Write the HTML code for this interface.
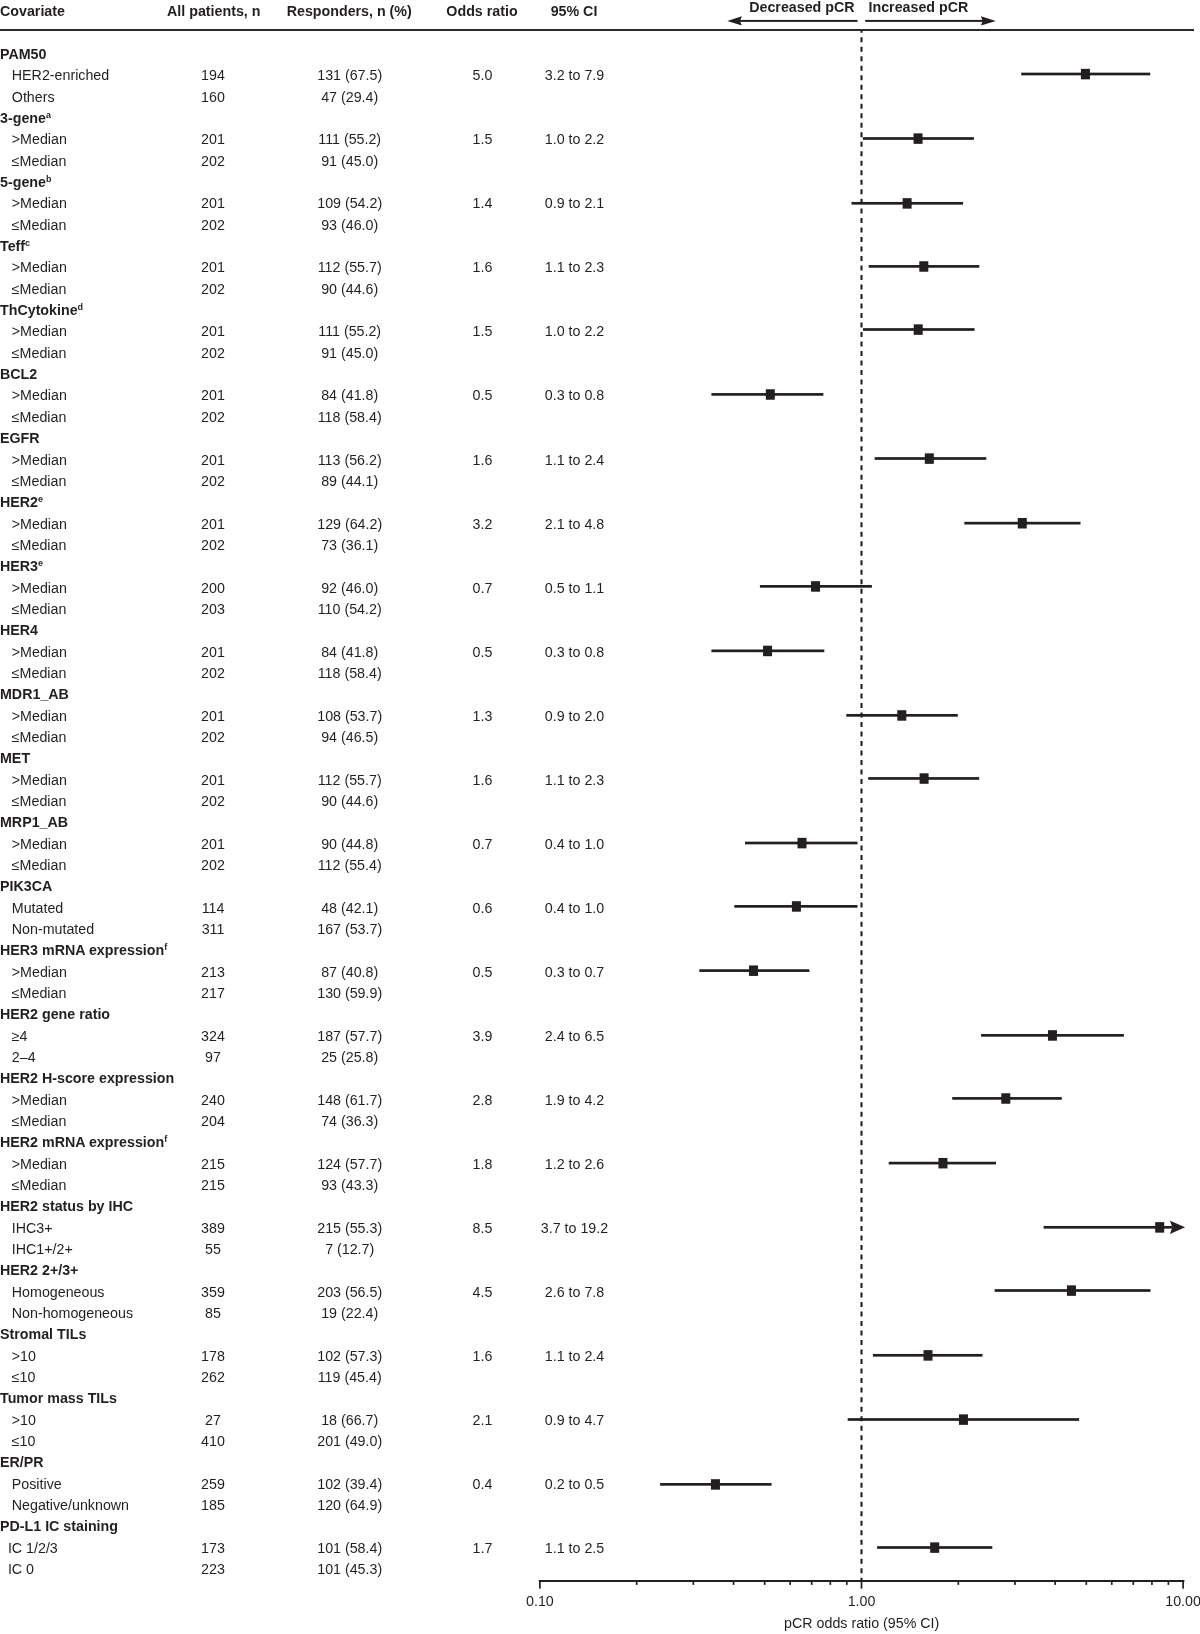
<!DOCTYPE html><html><head><meta charset="utf-8"><style>html,body{margin:0;padding:0;background:#fff;}svg{display:block;will-change:transform}text{font-family:"Liberation Sans",sans-serif;font-size:14.25px;fill:#231f20}.b{font-weight:bold}</style></head><body>
<svg width="1200" height="1634" viewBox="0 0 1200 1634">
<text class="b" x="0" y="16.45">Covariate</text>
<text class="b" x="213.75" y="16.45" text-anchor="middle">All patients, n</text>
<text class="b" x="349.25" y="16.45" text-anchor="middle">Responders, n (%)</text>
<text class="b" x="482" y="16.45" text-anchor="middle">Odds ratio</text>
<text class="b" x="574" y="16.45" text-anchor="middle">95% CI</text>
<text class="b" x="801.9" y="12" text-anchor="middle">Decreased pCR</text>
<text class="b" x="918.4" y="12" text-anchor="middle">Increased pCR</text>
<rect x="739" y="19.9" width="118.5" height="2" fill="#231f20"/>
<path d="M727.25 20.9 L741.9 16.2 L739.9 20.9 L741.9 25.5 Z" fill="#231f20"/>
<rect x="865.2" y="19.9" width="118" height="2" fill="#231f20"/>
<path d="M995.8 20.9 L980.9 16.2 L982.7 20.9 L980.9 25.5 Z" fill="#231f20"/>
<line x1="861.5" y1="31" x2="861.5" y2="1580" stroke="#231f20" stroke-width="2.1" stroke-dasharray="5 4.51" stroke-dashoffset="3.31"/>
<rect x="0" y="29.05" width="1194" height="1.9" fill="#231f20"/>
<text class="b" x="0" y="59.10">PAM50</text>
<text x="11.8" y="80.44">HER2-enriched</text>
<text x="213" y="80.44" text-anchor="middle">194</text>
<text x="349.7" y="80.44" text-anchor="middle">131 (67.5)</text>
<text x="482.5" y="80.44" text-anchor="middle">5.0</text>
<text x="574.5" y="80.44" text-anchor="middle">3.2 to 7.9</text>
<text x="11.8" y="101.77">Others</text>
<text x="213" y="101.77" text-anchor="middle">160</text>
<text x="349.7" y="101.77" text-anchor="middle">47 (29.4)</text>
<text class="b" x="0" y="123.11">3-gene<tspan font-size="9" dy="-5.1">a</tspan></text>
<text x="11.8" y="144.45">>Median</text>
<text x="213" y="144.45" text-anchor="middle">201</text>
<text x="349.7" y="144.45" text-anchor="middle">111 (55.2)</text>
<text x="482.5" y="144.45" text-anchor="middle">1.5</text>
<text x="574.5" y="144.45" text-anchor="middle">1.0 to 2.2</text>
<text x="11.8" y="165.78">≤Median</text>
<text x="213" y="165.78" text-anchor="middle">202</text>
<text x="349.7" y="165.78" text-anchor="middle">91 (45.0)</text>
<text class="b" x="0" y="187.12">5-gene<tspan font-size="9" dy="-5.1">b</tspan></text>
<text x="11.8" y="208.46">>Median</text>
<text x="213" y="208.46" text-anchor="middle">201</text>
<text x="349.7" y="208.46" text-anchor="middle">109 (54.2)</text>
<text x="482.5" y="208.46" text-anchor="middle">1.4</text>
<text x="574.5" y="208.46" text-anchor="middle">0.9 to 2.1</text>
<text x="11.8" y="229.80">≤Median</text>
<text x="213" y="229.80" text-anchor="middle">202</text>
<text x="349.7" y="229.80" text-anchor="middle">93 (46.0)</text>
<text class="b" x="0" y="251.13">Teff<tspan font-size="9" dy="-5.1">c</tspan></text>
<text x="11.8" y="272.47">>Median</text>
<text x="213" y="272.47" text-anchor="middle">201</text>
<text x="349.7" y="272.47" text-anchor="middle">112 (55.7)</text>
<text x="482.5" y="272.47" text-anchor="middle">1.6</text>
<text x="574.5" y="272.47" text-anchor="middle">1.1 to 2.3</text>
<text x="11.8" y="293.81">≤Median</text>
<text x="213" y="293.81" text-anchor="middle">202</text>
<text x="349.7" y="293.81" text-anchor="middle">90 (44.6)</text>
<text class="b" x="0" y="315.14">ThCytokine<tspan font-size="9" dy="-5.1">d</tspan></text>
<text x="11.8" y="336.48">>Median</text>
<text x="213" y="336.48" text-anchor="middle">201</text>
<text x="349.7" y="336.48" text-anchor="middle">111 (55.2)</text>
<text x="482.5" y="336.48" text-anchor="middle">1.5</text>
<text x="574.5" y="336.48" text-anchor="middle">1.0 to 2.2</text>
<text x="11.8" y="357.82">≤Median</text>
<text x="213" y="357.82" text-anchor="middle">202</text>
<text x="349.7" y="357.82" text-anchor="middle">91 (45.0)</text>
<text class="b" x="0" y="379.16">BCL2</text>
<text x="11.8" y="400.49">>Median</text>
<text x="213" y="400.49" text-anchor="middle">201</text>
<text x="349.7" y="400.49" text-anchor="middle">84 (41.8)</text>
<text x="482.5" y="400.49" text-anchor="middle">0.5</text>
<text x="574.5" y="400.49" text-anchor="middle">0.3 to 0.8</text>
<text x="11.8" y="421.83">≤Median</text>
<text x="213" y="421.83" text-anchor="middle">202</text>
<text x="349.7" y="421.83" text-anchor="middle">118 (58.4)</text>
<text class="b" x="0" y="443.17">EGFR</text>
<text x="11.8" y="464.50">>Median</text>
<text x="213" y="464.50" text-anchor="middle">201</text>
<text x="349.7" y="464.50" text-anchor="middle">113 (56.2)</text>
<text x="482.5" y="464.50" text-anchor="middle">1.6</text>
<text x="574.5" y="464.50" text-anchor="middle">1.1 to 2.4</text>
<text x="11.8" y="485.84">≤Median</text>
<text x="213" y="485.84" text-anchor="middle">202</text>
<text x="349.7" y="485.84" text-anchor="middle">89 (44.1)</text>
<text class="b" x="0" y="507.18">HER2<tspan font-size="9" dy="-5.1">e</tspan></text>
<text x="11.8" y="528.51">>Median</text>
<text x="213" y="528.51" text-anchor="middle">201</text>
<text x="349.7" y="528.51" text-anchor="middle">129 (64.2)</text>
<text x="482.5" y="528.51" text-anchor="middle">3.2</text>
<text x="574.5" y="528.51" text-anchor="middle">2.1 to 4.8</text>
<text x="11.8" y="549.85">≤Median</text>
<text x="213" y="549.85" text-anchor="middle">202</text>
<text x="349.7" y="549.85" text-anchor="middle">73 (36.1)</text>
<text class="b" x="0" y="571.19">HER3<tspan font-size="9" dy="-5.1">e</tspan></text>
<text x="11.8" y="592.52">>Median</text>
<text x="213" y="592.52" text-anchor="middle">200</text>
<text x="349.7" y="592.52" text-anchor="middle">92 (46.0)</text>
<text x="482.5" y="592.52" text-anchor="middle">0.7</text>
<text x="574.5" y="592.52" text-anchor="middle">0.5 to 1.1</text>
<text x="11.8" y="613.86">≤Median</text>
<text x="213" y="613.86" text-anchor="middle">203</text>
<text x="349.7" y="613.86" text-anchor="middle">110 (54.2)</text>
<text class="b" x="0" y="635.20">HER4</text>
<text x="11.8" y="656.54">>Median</text>
<text x="213" y="656.54" text-anchor="middle">201</text>
<text x="349.7" y="656.54" text-anchor="middle">84 (41.8)</text>
<text x="482.5" y="656.54" text-anchor="middle">0.5</text>
<text x="574.5" y="656.54" text-anchor="middle">0.3 to 0.8</text>
<text x="11.8" y="677.87">≤Median</text>
<text x="213" y="677.87" text-anchor="middle">202</text>
<text x="349.7" y="677.87" text-anchor="middle">118 (58.4)</text>
<text class="b" x="0" y="699.21">MDR1_AB</text>
<text x="11.8" y="720.55">>Median</text>
<text x="213" y="720.55" text-anchor="middle">201</text>
<text x="349.7" y="720.55" text-anchor="middle">108 (53.7)</text>
<text x="482.5" y="720.55" text-anchor="middle">1.3</text>
<text x="574.5" y="720.55" text-anchor="middle">0.9 to 2.0</text>
<text x="11.8" y="741.88">≤Median</text>
<text x="213" y="741.88" text-anchor="middle">202</text>
<text x="349.7" y="741.88" text-anchor="middle">94 (46.5)</text>
<text class="b" x="0" y="763.22">MET</text>
<text x="11.8" y="784.56">>Median</text>
<text x="213" y="784.56" text-anchor="middle">201</text>
<text x="349.7" y="784.56" text-anchor="middle">112 (55.7)</text>
<text x="482.5" y="784.56" text-anchor="middle">1.6</text>
<text x="574.5" y="784.56" text-anchor="middle">1.1 to 2.3</text>
<text x="11.8" y="805.89">≤Median</text>
<text x="213" y="805.89" text-anchor="middle">202</text>
<text x="349.7" y="805.89" text-anchor="middle">90 (44.6)</text>
<text class="b" x="0" y="827.23">MRP1_AB</text>
<text x="11.8" y="848.57">>Median</text>
<text x="213" y="848.57" text-anchor="middle">201</text>
<text x="349.7" y="848.57" text-anchor="middle">90 (44.8)</text>
<text x="482.5" y="848.57" text-anchor="middle">0.7</text>
<text x="574.5" y="848.57" text-anchor="middle">0.4 to 1.0</text>
<text x="11.8" y="869.91">≤Median</text>
<text x="213" y="869.91" text-anchor="middle">202</text>
<text x="349.7" y="869.91" text-anchor="middle">112 (55.4)</text>
<text class="b" x="0" y="891.24">PIK3CA</text>
<text x="11.8" y="912.58">Mutated</text>
<text x="213" y="912.58" text-anchor="middle">114</text>
<text x="349.7" y="912.58" text-anchor="middle">48 (42.1)</text>
<text x="482.5" y="912.58" text-anchor="middle">0.6</text>
<text x="574.5" y="912.58" text-anchor="middle">0.4 to 1.0</text>
<text x="11.8" y="933.92">Non-mutated</text>
<text x="213" y="933.92" text-anchor="middle">311</text>
<text x="349.7" y="933.92" text-anchor="middle">167 (53.7)</text>
<text class="b" x="0" y="955.25">HER3 mRNA expression<tspan font-size="9" dy="-5.1">f</tspan></text>
<text x="11.8" y="976.59">>Median</text>
<text x="213" y="976.59" text-anchor="middle">213</text>
<text x="349.7" y="976.59" text-anchor="middle">87 (40.8)</text>
<text x="482.5" y="976.59" text-anchor="middle">0.5</text>
<text x="574.5" y="976.59" text-anchor="middle">0.3 to 0.7</text>
<text x="11.8" y="997.93">≤Median</text>
<text x="213" y="997.93" text-anchor="middle">217</text>
<text x="349.7" y="997.93" text-anchor="middle">130 (59.9)</text>
<text class="b" x="0" y="1019.26">HER2 gene ratio</text>
<text x="11.8" y="1040.60">≥4</text>
<text x="213" y="1040.60" text-anchor="middle">324</text>
<text x="349.7" y="1040.60" text-anchor="middle">187 (57.7)</text>
<text x="482.5" y="1040.60" text-anchor="middle">3.9</text>
<text x="574.5" y="1040.60" text-anchor="middle">2.4 to 6.5</text>
<text x="11.8" y="1061.94">2–4</text>
<text x="213" y="1061.94" text-anchor="middle">97</text>
<text x="349.7" y="1061.94" text-anchor="middle">25 (25.8)</text>
<text class="b" x="0" y="1083.28">HER2 H-score expression</text>
<text x="11.8" y="1104.61">>Median</text>
<text x="213" y="1104.61" text-anchor="middle">240</text>
<text x="349.7" y="1104.61" text-anchor="middle">148 (61.7)</text>
<text x="482.5" y="1104.61" text-anchor="middle">2.8</text>
<text x="574.5" y="1104.61" text-anchor="middle">1.9 to 4.2</text>
<text x="11.8" y="1125.95">≤Median</text>
<text x="213" y="1125.95" text-anchor="middle">204</text>
<text x="349.7" y="1125.95" text-anchor="middle">74 (36.3)</text>
<text class="b" x="0" y="1147.29">HER2 mRNA expression<tspan font-size="9" dy="-5.1">f</tspan></text>
<text x="11.8" y="1168.62">>Median</text>
<text x="213" y="1168.62" text-anchor="middle">215</text>
<text x="349.7" y="1168.62" text-anchor="middle">124 (57.7)</text>
<text x="482.5" y="1168.62" text-anchor="middle">1.8</text>
<text x="574.5" y="1168.62" text-anchor="middle">1.2 to 2.6</text>
<text x="11.8" y="1189.96">≤Median</text>
<text x="213" y="1189.96" text-anchor="middle">215</text>
<text x="349.7" y="1189.96" text-anchor="middle">93 (43.3)</text>
<text class="b" x="0" y="1211.30">HER2 status by IHC</text>
<text x="11.8" y="1232.63">IHC3+</text>
<text x="213" y="1232.63" text-anchor="middle">389</text>
<text x="349.7" y="1232.63" text-anchor="middle">215 (55.3)</text>
<text x="482.5" y="1232.63" text-anchor="middle">8.5</text>
<text x="574.5" y="1232.63" text-anchor="middle">3.7 to 19.2</text>
<text x="11.8" y="1253.97">IHC1+/2+</text>
<text x="213" y="1253.97" text-anchor="middle">55</text>
<text x="349.7" y="1253.97" text-anchor="middle">7 (12.7)</text>
<text class="b" x="0" y="1275.31">HER2 2+/3+</text>
<text x="11.8" y="1296.65">Homogeneous</text>
<text x="213" y="1296.65" text-anchor="middle">359</text>
<text x="349.7" y="1296.65" text-anchor="middle">203 (56.5)</text>
<text x="482.5" y="1296.65" text-anchor="middle">4.5</text>
<text x="574.5" y="1296.65" text-anchor="middle">2.6 to 7.8</text>
<text x="11.8" y="1317.98">Non-homogeneous</text>
<text x="213" y="1317.98" text-anchor="middle">85</text>
<text x="349.7" y="1317.98" text-anchor="middle">19 (22.4)</text>
<text class="b" x="0" y="1339.32">Stromal TILs</text>
<text x="11.8" y="1360.66">>10</text>
<text x="213" y="1360.66" text-anchor="middle">178</text>
<text x="349.7" y="1360.66" text-anchor="middle">102 (57.3)</text>
<text x="482.5" y="1360.66" text-anchor="middle">1.6</text>
<text x="574.5" y="1360.66" text-anchor="middle">1.1 to 2.4</text>
<text x="11.8" y="1381.99">≤10</text>
<text x="213" y="1381.99" text-anchor="middle">262</text>
<text x="349.7" y="1381.99" text-anchor="middle">119 (45.4)</text>
<text class="b" x="0" y="1403.33">Tumor mass TILs</text>
<text x="11.8" y="1424.67">>10</text>
<text x="213" y="1424.67" text-anchor="middle">27</text>
<text x="349.7" y="1424.67" text-anchor="middle">18 (66.7)</text>
<text x="482.5" y="1424.67" text-anchor="middle">2.1</text>
<text x="574.5" y="1424.67" text-anchor="middle">0.9 to 4.7</text>
<text x="11.8" y="1446.00">≤10</text>
<text x="213" y="1446.00" text-anchor="middle">410</text>
<text x="349.7" y="1446.00" text-anchor="middle">201 (49.0)</text>
<text class="b" x="0" y="1467.34">ER/PR</text>
<text x="11.8" y="1488.68">Positive</text>
<text x="213" y="1488.68" text-anchor="middle">259</text>
<text x="349.7" y="1488.68" text-anchor="middle">102 (39.4)</text>
<text x="482.5" y="1488.68" text-anchor="middle">0.4</text>
<text x="574.5" y="1488.68" text-anchor="middle">0.2 to 0.5</text>
<text x="11.8" y="1510.02">Negative/unknown</text>
<text x="213" y="1510.02" text-anchor="middle">185</text>
<text x="349.7" y="1510.02" text-anchor="middle">120 (64.9)</text>
<text class="b" x="0" y="1531.35">PD-L1 IC staining</text>
<text x="7.9" y="1552.69">IC 1/2/3</text>
<text x="213" y="1552.69" text-anchor="middle">173</text>
<text x="349.7" y="1552.69" text-anchor="middle">101 (58.4)</text>
<text x="482.5" y="1552.69" text-anchor="middle">1.7</text>
<text x="574.5" y="1552.69" text-anchor="middle">1.1 to 2.5</text>
<text x="7.9" y="1574.03">IC 0</text>
<text x="213" y="1574.03" text-anchor="middle">223</text>
<text x="349.7" y="1574.03" text-anchor="middle">101 (45.3)</text>
<rect x="1021.25" y="72.65" width="129.00" height="2.7" fill="#231f20"/>
<rect x="1080.95" y="68.85" width="9.0" height="10.5" fill="#231f20"/>
<rect x="862.90" y="137.15" width="111.00" height="2.7" fill="#231f20"/>
<rect x="913.55" y="133.35" width="9.0" height="10.5" fill="#231f20"/>
<rect x="851.50" y="201.95" width="111.60" height="2.7" fill="#231f20"/>
<rect x="902.60" y="198.15" width="9.0" height="10.5" fill="#231f20"/>
<rect x="868.70" y="265.05" width="110.60" height="2.7" fill="#231f20"/>
<rect x="919.30" y="261.25" width="9.0" height="10.5" fill="#231f20"/>
<rect x="863.00" y="328.15" width="111.60" height="2.7" fill="#231f20"/>
<rect x="913.70" y="324.35" width="9.0" height="10.5" fill="#231f20"/>
<rect x="711.40" y="393.05" width="112.00" height="2.7" fill="#231f20"/>
<rect x="765.80" y="389.25" width="9.0" height="10.5" fill="#231f20"/>
<rect x="874.70" y="457.15" width="111.60" height="2.7" fill="#231f20"/>
<rect x="924.80" y="453.35" width="9.0" height="10.5" fill="#231f20"/>
<rect x="964.30" y="521.80" width="116.20" height="2.7" fill="#231f20"/>
<rect x="1017.75" y="518.00" width="9.0" height="10.5" fill="#231f20"/>
<rect x="759.90" y="585.00" width="112.00" height="2.7" fill="#231f20"/>
<rect x="811.05" y="581.20" width="9.0" height="10.5" fill="#231f20"/>
<rect x="711.40" y="649.50" width="112.90" height="2.7" fill="#231f20"/>
<rect x="763.05" y="645.70" width="9.0" height="10.5" fill="#231f20"/>
<rect x="846.30" y="714.00" width="111.50" height="2.7" fill="#231f20"/>
<rect x="897.30" y="710.20" width="9.0" height="10.5" fill="#231f20"/>
<rect x="868.20" y="777.10" width="111.00" height="2.7" fill="#231f20"/>
<rect x="919.60" y="773.30" width="9.0" height="10.5" fill="#231f20"/>
<rect x="745.00" y="841.65" width="112.50" height="2.7" fill="#231f20"/>
<rect x="797.50" y="837.85" width="9.0" height="10.5" fill="#231f20"/>
<rect x="734.30" y="905.00" width="123.20" height="2.7" fill="#231f20"/>
<rect x="791.90" y="901.20" width="9.0" height="10.5" fill="#231f20"/>
<rect x="699.30" y="969.25" width="110.10" height="2.7" fill="#231f20"/>
<rect x="749.05" y="965.45" width="9.0" height="10.5" fill="#231f20"/>
<rect x="981.10" y="1034.00" width="142.80" height="2.7" fill="#231f20"/>
<rect x="1047.95" y="1030.20" width="9.0" height="10.5" fill="#231f20"/>
<rect x="952.20" y="1097.05" width="109.60" height="2.7" fill="#231f20"/>
<rect x="1001.30" y="1093.25" width="9.0" height="10.5" fill="#231f20"/>
<rect x="888.70" y="1161.75" width="107.30" height="2.7" fill="#231f20"/>
<rect x="938.45" y="1157.95" width="9.0" height="10.5" fill="#231f20"/>
<rect x="1043.60" y="1225.95" width="128.40" height="2.7" fill="#231f20"/>
<path d="M1185.1 1227.30 L1170 1220.80 L1172.3 1227.30 L1170 1233.90 Z" fill="#231f20"/>
<rect x="1155.20" y="1222.15" width="9.0" height="10.5" fill="#231f20"/>
<rect x="994.60" y="1289.15" width="155.90" height="2.7" fill="#231f20"/>
<rect x="1066.95" y="1285.35" width="9.0" height="10.5" fill="#231f20"/>
<rect x="872.90" y="1353.95" width="109.60" height="2.7" fill="#231f20"/>
<rect x="923.50" y="1350.15" width="9.0" height="10.5" fill="#231f20"/>
<rect x="847.70" y="1418.15" width="231.40" height="2.7" fill="#231f20"/>
<rect x="958.95" y="1414.35" width="9.0" height="10.5" fill="#231f20"/>
<rect x="660.10" y="1483.00" width="111.50" height="2.7" fill="#231f20"/>
<rect x="710.95" y="1479.20" width="9.0" height="10.5" fill="#231f20"/>
<rect x="877.10" y="1546.15" width="115.20" height="2.7" fill="#231f20"/>
<rect x="930.20" y="1542.35" width="9.0" height="10.5" fill="#231f20"/>
<rect x="538.8" y="1580" width="645.6" height="2" fill="#231f20"/>
<rect x="539.05" y="1580" width="1.7" height="8.7" fill="#231f20"/>
<rect x="635.86" y="1580" width="1.7" height="4.9" fill="#231f20"/>
<rect x="692.49" y="1580" width="1.7" height="4.9" fill="#231f20"/>
<rect x="732.67" y="1580" width="1.7" height="4.9" fill="#231f20"/>
<rect x="763.84" y="1580" width="1.7" height="4.9" fill="#231f20"/>
<rect x="789.30" y="1580" width="1.7" height="4.9" fill="#231f20"/>
<rect x="810.83" y="1580" width="1.7" height="4.9" fill="#231f20"/>
<rect x="829.48" y="1580" width="1.7" height="4.9" fill="#231f20"/>
<rect x="845.93" y="1580" width="1.7" height="4.9" fill="#231f20"/>
<rect x="860.65" y="1580" width="1.7" height="8.7" fill="#231f20"/>
<rect x="957.46" y="1580" width="1.7" height="4.9" fill="#231f20"/>
<rect x="1014.09" y="1580" width="1.7" height="4.9" fill="#231f20"/>
<rect x="1054.27" y="1580" width="1.7" height="4.9" fill="#231f20"/>
<rect x="1085.44" y="1580" width="1.7" height="4.9" fill="#231f20"/>
<rect x="1110.90" y="1580" width="1.7" height="4.9" fill="#231f20"/>
<rect x="1132.43" y="1580" width="1.7" height="4.9" fill="#231f20"/>
<rect x="1151.08" y="1580" width="1.7" height="4.9" fill="#231f20"/>
<rect x="1167.53" y="1580" width="1.7" height="4.9" fill="#231f20"/>
<rect x="1182.25" y="1580" width="1.7" height="8.7" fill="#231f20"/>
<text x="539.90" y="1605.5" text-anchor="middle">0.10</text>
<text x="861.50" y="1605.5" text-anchor="middle">1.00</text>
<text x="1183.10" y="1605.5" text-anchor="middle">10.00</text>
<text x="861.7" y="1627.7" text-anchor="middle">pCR odds ratio (95% CI)</text>
</svg></body></html>
